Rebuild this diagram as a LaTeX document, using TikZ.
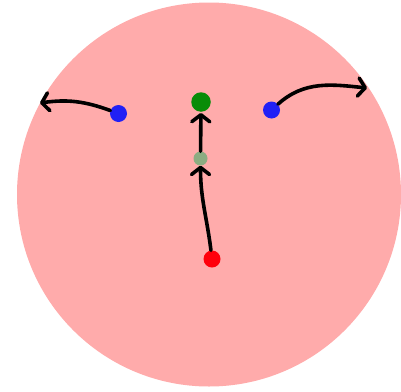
\documentclass[tikz,border=0pt]{standalone}
\usetikzlibrary{arrows.meta}
\definecolor{disk}{RGB}{255,171,171}
\definecolor{dgreen}{RGB}{8,140,8}
\definecolor{lgreen}{RGB}{140,172,130}
\definecolor{dblue}{RGB}{32,32,245}
\definecolor{dred}{RGB}{255,0,12}
\tikzset{
  dot/.style={circle,inner sep=0pt,draw=none},
  arr/.style={line width=3.6pt,line cap=round,line join=round,
    -{Straight Barb[length=7pt,width=18pt,line cap=round,line join=round]}},
}
\begin{document}
\begin{tikzpicture}[x=1pt,y=1pt]
\useasboundingbox (0,0) rectangle (401,-391);
\fill[disk] (209,-194.5) circle (192);
\node[dot,fill=dgreen,minimum size=19.5pt] (green) at (201,-102) {};
\node[dot,fill=lgreen,minimum size=14pt] (lg) at (200.5,-158.5) {};
\node[dot,fill=dred,minimum size=17pt] (red) at (212,-259) {};
\node[dot,fill=dblue,minimum size=17pt] (lb) at (118.5,-113.5) {};
\node[dot,fill=dblue,minimum size=17pt] (rb) at (271.5,-110) {};
\coordinate (lend) at (40,-103);
\coordinate (rend) at (367,-88);
\draw[arr] (red) to[out=97,in=-90] (lg);
\draw[arr, shorten >=1pt] (lg) -- (green);
\draw[arr] (lb) to[out=160,in=8] (lend);
\draw[arr] (rb) to[out=42,in=174] (rend);
\end{tikzpicture}
\end{document}
